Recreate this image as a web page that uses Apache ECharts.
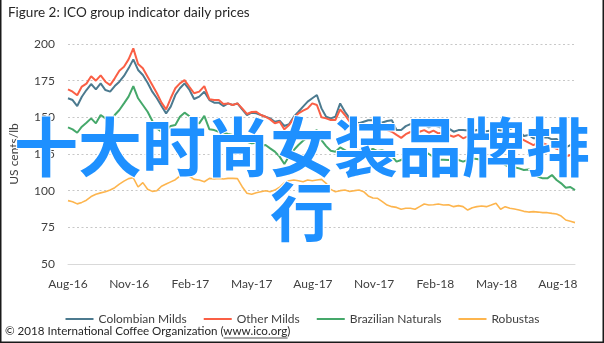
<!DOCTYPE html>
<html>
<head>
<meta charset="utf-8">
<script src="https://cdn.jsdelivr.net/npm/echarts@6/dist/echarts.min.js"></script>
<style>
  html, body { margin: 0; padding: 0; background: #fff; }
  #chart { width: 604px; height: 343px; }
</style>
</head>
<body>
<div id="chart"></div>
<script>
// ICO group indicator prices, weekly readings (US cents/lb), first week starting 1 Aug 2016
const firstWeek = Date.UTC(2016, 7, 1);
const weekMs = 7 * 24 * 3600 * 1000;

const seriesNames = ['Colombian Milds', 'Other Milds', 'Brazilian Naturals', 'Robustas'];
const seriesColors = ['#4C7A8F', '#FA5F45', '#45A86A', '#FDB54E'];
const tickLabels = ['Aug-16', 'Nov-16', 'Feb-17', 'May-17', 'Aug-17', 'Nov-17', 'Feb-18', 'May-18', 'Aug-18'];

const colombianMilds = [
  163, 161.8, 157.7, 164, 168.6, 172.7, 169.1, 173.2, 168.6, 167.5,
  171.3, 174.3, 178.2, 183.4, 189.5, 182.3, 178.9, 173.6, 167.5, 163,
  157.7, 152.7, 157.3, 165.2, 169.8, 173.2, 169.1, 162.5, 164.1, 167.5,
  161.8, 160, 160, 157.7, 159.5, 158.4, 159.5, 155.4, 151.6, 153.2,
  152.7, 151.6, 150.4, 149.3, 147, 147.7, 144.1, 145.4, 150.4, 153.8,
  157.3, 160.7, 163, 165.2, 156.1, 150.4, 149.3, 150.4, 159.5, 153.8,
  149.3, 147, 146, 147, 148, 148, 147, 146.5, 147.5, 148,
  141.3, 141.3, 144, 145.4, 144.8, 144, 144.8, 143.2, 144.8, 143.6,
  142.5, 142.5, 140.2, 141.3, 141.3, 141, 140.5, 141.3, 141, 140.5,
  141, 141.5, 141, 141, 142, 143.2, 140.9, 137.3, 138, 135.7,
  135.7, 136.3, 136.3, 135, 135.2, 133.4, 129.5, 131.1, 131
];
const otherMilds = [
  169, 167.5, 165, 171, 173, 178, 175, 178.6, 174.3, 172,
  176.6, 181.8, 184.5, 189.5, 197, 186.4, 183.4, 177.7, 172, 166.4,
  160, 155.4, 163, 169.8, 173.2, 175.4, 171, 166.4, 167.5, 171.3,
  162.3, 161.8, 161.8, 159.1, 159.5, 158.4, 159.5, 156.1, 152.3, 153.6,
  153.8, 151.6, 150.4, 148.6, 145.9, 147, 141.8, 144.8, 149.3, 152.7,
  154.5, 156.1, 159.5, 158.4, 150, 149.3, 148.2, 148.2, 155.4, 151.6,
  147, 144.8, 144.5, 144, 144.5, 144, 143, 142.5, 141.3, 140.2,
  138, 136, 138.5, 140, 140.9, 140.2, 141.3, 139.5, 140.9, 139.1,
  139.5, 138, 136.8, 138, 135.7, 137, 136, 137.5, 136.5, 137,
  138, 137, 136.5, 137, 138, 138, 136.3, 134.5, 132.7, 131.1,
  132.7, 132.3, 131.1, 130, 128.6, 127.7, 123.2, 124.3, 126.5
];
const brazilianNaturals = [
  143.2, 141.8, 139.5, 143.6, 146.3, 149.3, 145.9, 151.6, 149.3, 147,
  151.6, 155, 159.5, 164.1, 171.3, 163, 158.4, 153.8, 147.7, 142.5,
  140.2, 140.9, 144.1, 144.8, 150.4, 153.2, 150.9, 146, 145.9, 151,
  141.8, 141.3, 140.2, 139.5, 138.6, 138, 137.3, 135.7, 133.4, 132.3,
  132.7, 130.4, 131.1, 128.8, 126.6, 123.2, 118.2, 123.6, 127.7, 131.1,
  134.1, 136.3, 139.5, 141.3, 134.5, 130.4, 127.2, 126.6, 129.5, 127.7,
  125.4, 126, 127, 128, 127.5, 128.5, 127, 127.5, 126.5, 123.6,
  119.8, 120.9, 123.2, 124.3, 124.5, 126, 127, 125, 123, 121,
  121, 120.9, 122, 120.9, 119.8, 120.9, 122, 121.6, 120.9, 119.8,
  120.2, 122, 119.8, 117.5, 116.3, 115.9, 115.2, 114.1, 114.5, 112.3,
  109.5, 108.4, 108.4, 110.7, 107.3, 105, 102, 102.5, 100.4
];
const robustas = [
  93.2, 92.5, 91, 92, 93.5, 96, 97.5, 98.5, 99.3, 100.5,
  102, 104.5, 106.5, 108.2, 108.8, 102.5, 105.5, 101, 99.5, 100,
  103, 104.5, 106, 107.5, 110, 110.7, 110, 107.7, 107.3, 106.1,
  108.4, 108, 108.4, 108, 108.4, 108.4, 108.2, 102.7, 98.2, 97.5,
  98.6, 99.3, 100, 99.3, 100.4, 102.3, 105.4, 106.8, 107.3, 106.8,
  106.1, 107.3, 106.8, 107.3, 107.7, 105, 100.9, 99.3, 100, 100.4,
  99.5, 100, 100.4, 99.3, 96.4, 95, 94.8, 92.5, 90.2, 89.1,
  88.6, 87.3, 88, 88, 87.3, 89.1, 90.9, 90.2, 90.4, 90.9,
  90.2, 90.4, 89.1, 89.8, 89.1, 86.8, 88.4, 89.1, 89.5, 89.1,
  90.2, 91.4, 87.3, 89.1, 88, 87.5, 86.8, 85.9, 85.4, 85.7,
  85.4, 85, 85, 84.5, 84.1, 82.7, 80, 79.1, 78.2
];

const overlayText = '十大时尚女装品牌排\n行';
const titleText = 'Figure 2: ICO group indicator daily prices';
const footerLead = '\u00A9 2018 International Coffee Organization (';
const footerLink = 'www.ico.org';
const footerTail = ')';

// Position on the x axis in months since Aug 2016 (days spread within each month)
function monthIndex(ms) {
  const d = new Date(ms);
  const y = d.getUTCFullYear(), m = d.getUTCMonth();
  const dim = new Date(Date.UTC(y, m + 1, 0)).getUTCDate();
  return (y - 2016) * 12 + (m - 7) + (d.getUTCDate() - 1) / dim;
}
function pairs(values) {
  return values.map((v, i) => [monthIndex(firstWeek + i * weekMs), v]);
}
const allSeries = [colombianMilds, otherMilds, brazilianNaturals, robustas];
const lastX = monthIndex(firstWeek + (robustas.length - 1) * weekMs);

const baseFont = 'Lato, "Open Sans", sans-serif';
const footerFont = '11.6px ' + baseFont;

// measure footer pieces so the link can be underlined
const mctx = document.createElement('canvas').getContext('2d');
mctx.font = footerFont;
const leadW = mctx.measureText(footerLead).width;
const linkW = mctx.measureText(footerLink).width;
const footerX = 5, footerY = 332;

const chart = echarts.init(document.getElementById('chart'), null, { renderer: 'canvas' });
chart.setOption({
  backgroundColor: '#fff',
  animation: false,
  title: {
    text: titleText,
    left: 3, top: 1,
    textStyle: { fontFamily: baseFont, fontSize: 13.5, fontWeight: 'normal', color: '#262626' }
  },
  grid: { left: 68, right: 29, top: 44, bottom: 79 },
  legend: {
    data: seriesNames,
    top: 308,
    left: 'center',
    itemWidth: 28,
    itemHeight: 10,
    itemGap: 16,
    // plain line keys: the point marker of each key is hidden
    itemStyle: { opacity: 0 },
    textStyle: { fontFamily: baseFont, fontSize: 12, color: '#404040' }
  },
  xAxis: {
    type: 'value',
    min: 0,
    max: lastX,
    interval: 3,
    axisLine: { show: true, lineStyle: { color: '#d9d9d9', width: 1 } },
    axisTick: { show: false },
    splitLine: { show: false },
    axisLabel: {
      showMaxLabel: false,
      margin: 14,
      fontFamily: baseFont, fontSize: 12, color: '#404040',
      formatter: v => tickLabels[Math.round(v / 3)] || ''
    }
  },
  yAxis: {
    type: 'value',
    min: 50, max: 200, interval: 25,
    name: 'US cents/lb',
    nameLocation: 'middle',
    nameGap: 48,
    nameTextStyle: { fontFamily: baseFont, fontSize: 12, color: '#404040' },
    axisLine: { show: false },
    axisTick: { show: false },
    axisLabel: { margin: 13, fontFamily: baseFont, fontSize: 12, color: '#404040' },
    splitLine: { lineStyle: { color: '#c8c8c8', width: 1, type: [2, 2.5] } }
  },
  series: allSeries.map((vals, k) => ({
    name: seriesNames[k],
    type: 'line',
    data: pairs(vals),
    showSymbol: false,
    symbol: 'none',
    color: seriesColors[k],
    lineStyle: { width: k === 3 ? 1.6 : 2, color: seriesColors[k] },
    z: 2 + k
  })),
  graphic: [
    {
      type: 'text', z: 100,
      left: footerX, top: footerY - 7,
      style: { text: footerLead + footerLink + footerTail, font: footerFont, fill: '#262626' }
    },
    {
      type: 'line', z: 100,
      shape: { x1: footerX + leadW, y1: footerY + 6, x2: footerX + leadW + linkW, y2: footerY + 6 },
      style: { stroke: '#262626', lineWidth: 0.8 }
    },
    {
      type: 'text', z: 200,
      x: 302, y: 179,
      style: {
        text: overlayText,
        font: 'bold 64px "Noto Sans CJK SC"',
        fill: '#1E90FF',
        stroke: '#ffffff',
        lineWidth: 2,
        align: 'center',
        verticalAlign: 'middle',
        lineHeight: 65
      }
    },
    {
      type: 'polyline', z: 300,
      shape: { points: [[0.75, 0], [0.75, 342.25], [603.25, 342.25], [603.25, 0]] },
      style: { stroke: '#1a1a1a', lineWidth: 1.5, fill: null }
    }
  ]
});
</script>
</body>
</html>
